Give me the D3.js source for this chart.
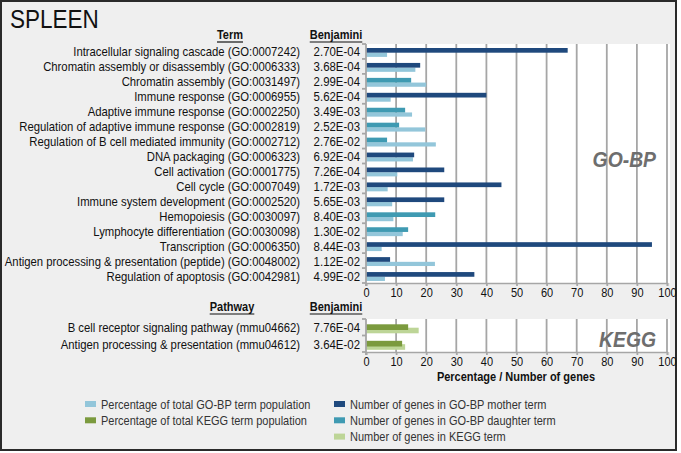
<!DOCTYPE html>
<html lang="en">
<head>
<meta charset="UTF-8">
<title>Spleen</title>
<script src="https://d3js.org/d3.v7.min.js"></script>
<style>
body{ margin:0; background:#fff; }
svg{ display:block; }
text{ font-family: "Liberation Sans", Arial, sans-serif; fill:#111; }
.grid{ stroke:#a6a6a6; stroke-width:1.8; }
</style>
</head>
<body>
<svg id="chart" width="681" height="453"></svg>
<script>
const goTerms = [
  "Intracellular signaling cascade (GO:0007242)",
  "Chromatin assembly or disassembly (GO:0006333)",
  "Chromatin assembly (GO:0031497)",
  "Immune response (GO:0006955)",
  "Adaptive immune response (GO:0002250)",
  "Regulation of adaptive immune response (GO:0002819)",
  "Regulation of B cell mediated immunity (GO:0002712)",
  "DNA packaging (GO:0006323)",
  "Cell activation (GO:0001775)",
  "Cell cycle (GO:0007049)",
  "Immune system development (GO:0002520)",
  "Hemopoiesis (GO:0030097)",
  "Lymphocyte differentiation (GO:0030098)",
  "Transcription (GO:0006350)",
  "Antigen processing & presentation (peptide) (GO:0048002)",
  "Regulation of apoptosis (GO:0042981)"
];
const goBenjamini = ["2.70E-04","3.68E-04","2.99E-04","5.62E-04","3.49E-03","2.52E-03","2.76E-02","6.92E-04",
  "7.26E-04","1.72E-03","5.65E-03","8.40E-03","1.30E-02","8.44E-03","1.12E-02","4.99E-02"];
// number of genes (upper bar) and % of term population (lower bar)
const goGenes = [67, 18, 15, 40, 13, 11, 7, 16, 26, 45, 26, 23, 14, 95, 8, 36];
const goPercent = [7, 16.4, 20, 8.2, 15.3, 19.7, 23.2, 15.6, 10.4, 7.2, 8.7, 9.1, 12.2, 5.2, 22.9, 6.3];
const goLevel = ["mother","mother","daughter","mother","daughter","daughter","daughter","mother",
  "mother","mother","mother","daughter","daughter","mother","mother","mother"];

const keggTerms = ["B cell receptor signaling pathway (mmu04662)", "Antigen processing & presentation (mmu04612)"];
const keggBenjamini = ["7.76E-04", "3.64E-02"];
const keggPercent = [14, 12];
const keggGenes = [17.5, 13];

const xTicks = [0,10,20,30,40,50,60,70,80,90,100];

const legendItems = [
  {label:"Percentage of total GO-BP term population", color:"#93c6da", col:0, row:0},
  {label:"Percentage of total KEGG term population", color:"#7b9a3e", col:0, row:1},
  {label:"Number of genes in GO-BP mother term", color:"#1f497d", col:1, row:0},
  {label:"Number of genes in GO-BP daughter term", color:"#3f9ab2", col:1, row:1},
  {label:"Number of genes in KEGG term", color:"#bdd597", col:1, row:2}
];

const colors = {mother:"#1f497d", daughter:"#3f9ab2", goPct:"#93c6da", keggPct:"#7b9a3e", keggGenes:"#bdd597"};

const svg = d3.select("#chart");

// the lettering in the original is narrow: scale text horizontally around its x
function squeeze(sel, k){
  sel.each(function(){
    const t = d3.select(this), x = +t.attr("x") || 0;
    t.attr("transform", `translate(${x*(1-k)},0) scale(${k},1)`);
  });
}

svg.append("rect").attr("x",1).attr("y",1).attr("width",675).attr("height",449)
  .attr("fill","#efefef").attr("stroke","#2a2a2a").attr("stroke-width",2);

svg.append("text").attr("x",10).attr("y",28).attr("font-size",25).text("SPLEEN").call(squeeze,0.9);

const x = d3.scaleLinear().domain([0,100]).range([366,667]);
const yGo = d3.scaleBand().domain(d3.range(goTerms.length)).range([44,283]);
const yKegg = d3.scaleBand().domain(d3.range(keggTerms.length)).range([319,352]);

function header(label, cx, y){
  const t = svg.append("text").attr("x",cx).attr("y",y).attr("text-anchor","middle")
    .attr("font-size",12.5).attr("font-weight","bold").text(label).call(squeeze,0.88);
  const w = t.node().getComputedTextLength()*0.88;
  svg.append("line").attr("x1",cx-w/2).attr("x2",cx+w/2).attr("y1",y+3).attr("y2",y+3)
    .attr("stroke","#111").attr("stroke-width",1.2);
}

function panel(y, terms, benj, drawBars, tag, tagY){
  const [y0,y1] = y.range();
  svg.append("rect").attr("x",x(0)).attr("y",y0).attr("width",670-x(0)).attr("height",y1-y0).attr("fill","#fff");

  svg.append("g").selectAll("line").data(xTicks.slice(1)).join("line").attr("class","grid")
    .attr("x1",d=>x(d)).attr("x2",d=>x(d)).attr("y1",y0).attr("y2",y1);

  svg.append("text").attr("x",656).attr("y",tagY).attr("text-anchor","end")
    .attr("font-size",21.5).attr("font-weight","bold").attr("font-style","italic")
    .style("fill","#6e6e6e").text(tag).call(squeeze,0.9);

  drawBars();

  // left axis with ticks between categories
  svg.append("line").attr("class","grid").attr("x1",x(0)).attr("x2",x(0)).attr("y1",y0).attr("y2",y1+3);
  svg.append("g").selectAll("line").data(d3.range(terms.length+1)).join("line")
    .attr("class","grid")
    .attr("x1",x(0)-4).attr("x2",x(0))
    .attr("y1",d=>y0+d*y.step()).attr("y2",d=>y0+d*y.step());

  const ax = svg.append("g").attr("transform",`translate(0,${y1})`)
    .call(d3.axisBottom(x).tickValues(xTicks).tickSize(3).tickPadding(2));
  ax.select(".domain").attr("stroke","#a6a6a6").attr("stroke-width",1.5);
  ax.selectAll(".tick line").attr("stroke","#a6a6a6").attr("stroke-width",1.8);
  ax.selectAll(".tick text").attr("fill","#111").attr("font-size",12.5).call(squeeze,0.88);

  svg.append("g").selectAll("text").data(terms).join("text")
    .attr("x",300).attr("y",(d,i)=>y(i)+y.bandwidth()/2+5).attr("text-anchor","end")
    .attr("font-size",13).text(d=>d).call(squeeze,0.87);
  svg.append("g").selectAll("text").data(benj).join("text")
    .attr("x",360).attr("y",(d,i)=>y(i)+y.bandwidth()/2+5).attr("text-anchor","end")
    .attr("font-size",13).text(d=>d).call(squeeze,0.88);
}

header("Term", 230, 39);
header("Benjamini", 336, 39);

panel(yGo, goTerms, goBenjamini, function(){
  const g = svg.append("g");
  g.selectAll(".pct").data(goPercent).join("rect").attr("class","pct")
    .attr("x",x(0)).attr("y",(d,i)=>yGo(i)+8.7).attr("height",4.2)
    .attr("width",d=>x(d)-x(0)).attr("fill",colors.goPct);
  g.selectAll(".genes").data(goGenes).join("rect").attr("class","genes")
    .attr("x",x(0)).attr("y",(d,i)=>yGo(i)+4).attr("height",4.7)
    .attr("width",d=>x(d)-x(0)).attr("fill",(d,i)=>colors[goLevel[i]]);
}, "GO-BP", 167);

header("Pathway", 232, 311);
header("Benjamini", 336, 311);

panel(yKegg, keggTerms, keggBenjamini, function(){
  const g = svg.append("g");
  g.selectAll(".genes").data(keggGenes).join("rect").attr("class","genes")
    .attr("x",x(0)).attr("y",(d,i)=>yKegg(i)+8.7).attr("height",5.6)
    .attr("width",d=>x(d)-x(0)).attr("fill",colors.keggGenes);
  g.selectAll(".pct").data(keggPercent).join("rect").attr("class","pct")
    .attr("x",x(0)).attr("y",(d,i)=>yKegg(i)+5.3).attr("height",5.7)
    .attr("width",d=>x(d)-x(0)).attr("fill",colors.keggPct);
}, "KEGG", 347);

svg.append("text").attr("x",516).attr("y",381).attr("text-anchor","middle")
  .attr("font-size",12.5).attr("font-weight","bold").text("Percentage / Number of genes").call(squeeze,0.88);

// legend
const lg = svg.append("g").selectAll("g").data(legendItems).join("g")
  .attr("transform",d=>`translate(${d.col ? 334 : 85},${404 + d.row*16.3})`);
lg.append("rect").attr("x",0).attr("y",-3).attr("width",11).attr("height",6).attr("fill",d=>d.color);
lg.append("text").attr("x",16).attr("y",4.5).attr("font-size",12.5).style("fill","#333")
  .text(d=>d.label).call(squeeze,0.88);
</script>
</body>
</html>
